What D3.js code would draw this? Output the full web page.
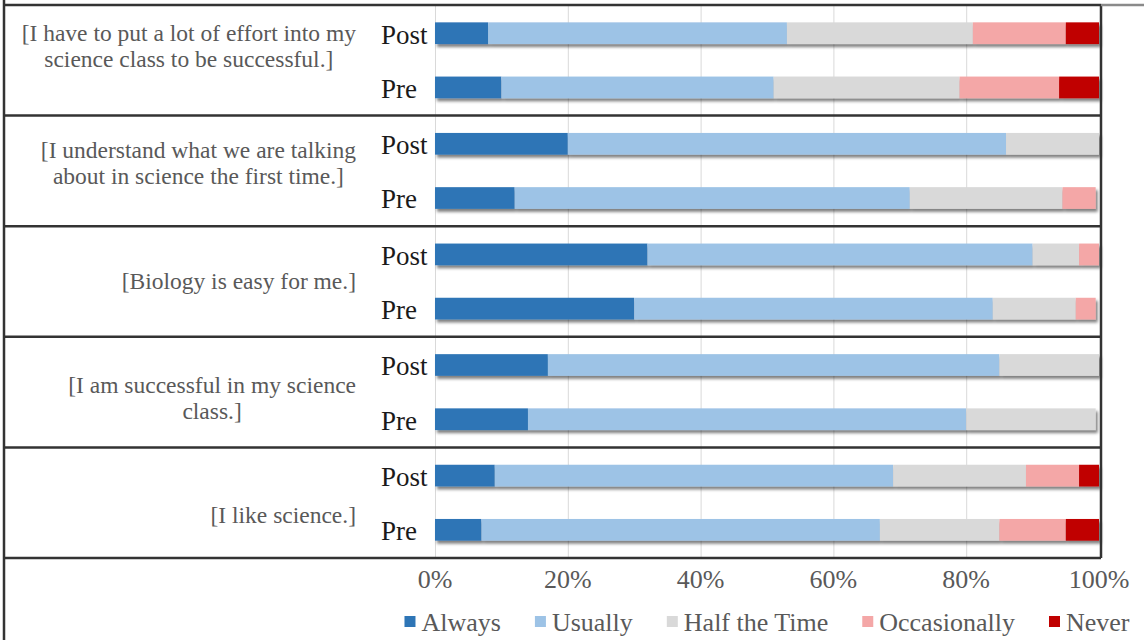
<!DOCTYPE html>
<html>
<head>
<meta charset="utf-8">
<script src="https://cdn.jsdelivr.net/npm/d3@7"></script>
<style>
  html, body { margin: 0; padding: 0; background: #fff; }
  svg { display: block; }
</style>
</head>
<body>
<svg id="chart" width="1144" height="640"></svg>
<script>
// ---------- DATA ----------
const categoryLines = [
  ["[I have to put a lot of effort into my", "science class to be successful.]"],
  ["[I understand what we are talking", "about in science the first time.]"],
  ["[Biology is easy  for me.]"],
  ["[I am successful in my science", "class.]"],
  ["[I like science.]"]
];
const groups = ["Post", "Pre"];
const seriesNames = ["Always", "Usually", "Half the Time", "Occasionally", "Never"];
const seriesColors = ["#2E75B6", "#9DC3E6", "#D9D9D9", "#F4A7A7", "#C00000"];
// rows in order: cat1 Post, cat1 Pre, cat2 Post, cat2 Pre, ...
const always       = [8, 10, 20, 12, 32, 30, 17, 14, 9, 7];
const usually      = [45, 41, 66, 59.5, 58, 54, 68, 66, 60, 60];
const halfTheTime  = [28, 28, 14, 23, 7, 12.5, 15, 19.5, 20, 18];
const occasionally = [14, 15, 0, 5, 3, 3, 0, 0, 8, 10];
const never        = [5, 6, 0, 0, 0, 0, 0, 0, 3, 5];
const tickValues = [0, 20, 40, 60, 80, 100];
const tickLabels = ["0%", "20%", "40%", "60%", "80%", "100%"];

// ---------- LAYOUT ----------
const svg = d3.select("#chart");
const plotLeft = 435, plotRight = 1099, plotTop = 5, plotBottom = 558;
const frameLeft = 4, frameRight = 1101;
const serif = "'Liberation Serif', 'Times New Roman', serif";

const x = d3.scaleLinear().domain([0, 100]).range([plotLeft, plotRight]);
const yCat = d3.scaleBand().domain(d3.range(categoryLines.length)).range([plotTop, plotBottom]).padding(0);
const yGrp = d3.scaleBand().domain(groups).range([0, yCat.bandwidth()]).paddingInner(0.6).paddingOuter(0.32);
// category label positions (label column spreads slightly differently than bars)
const yLabel = d3.scalePoint().domain(d3.range(categoryLines.length)).range([46, 515]);

const seriesArrays = [always, usually, halfTheTime, occasionally, never];
const rows = [];
categoryLines.forEach((c, ci) => {
  groups.forEach((g, gi) => {
    const idx = ci * groups.length + gi;
    const row = { cat: ci, group: g };
    seriesNames.forEach((s, si) => row[s] = seriesArrays[si][idx]);
    rows.push(row);
  });
});
const stacked = d3.stack().keys(seriesNames)(rows);

// shadow filter
const defs = svg.append("defs");
const f = defs.append("filter").attr("id", "shadow").attr("x", "-5%").attr("y", "-40%").attr("width", "110%").attr("height", "200%");
f.append("feDropShadow").attr("dx", 2).attr("dy", 3).attr("stdDeviation", 1.8)
  .attr("flood-color", "#000").attr("flood-opacity", 0.5);

// gridlines
svg.append("g").selectAll("line").data(tickValues.filter(v => v < 100)).join("line")
  .attr("x1", d => x(d) + 0.5).attr("x2", d => x(d) + 0.5)
  .attr("y1", plotTop).attr("y2", plotBottom)
  .attr("stroke", "#d9d9d9").attr("stroke-width", 1);

// bars
const barLayer = svg.append("g");
rows.forEach((r, ri) => {
  const gy = yCat(r.cat) + yGrp(r.group);
  const g = barLayer.append("g").attr("filter", "url(#shadow)");
  stacked.forEach((layer, li) => {
    const d = layer[ri];
    if (d[1] - d[0] <= 0) return;
    g.append("rect")
      .attr("x", x(d[0]))
      .attr("width", x(d[1]) - x(d[0]))
      .attr("y", gy)
      .attr("height", yGrp.bandwidth())
      .attr("fill", seriesColors[li]);
  });
});

// group labels (Post/Pre)
rows.forEach(r => {
  svg.append("text")
    .attr("x", 381)
    .attr("y", yCat(r.cat) + yGrp(r.group) + yGrp.bandwidth() / 2 + 1)
    .attr("dy", "0.35em")
    .attr("text-anchor", "start")
    .attr("font-family", serif).attr("font-size", 27)
    .attr("fill", "#1a1a1a")
    .text(r.group);
});

// category labels (centered block, right edge at 356)
categoryLines.forEach((lines, ci) => {
  const lineH = 26;
  const cy = yLabel(ci);
  const t = svg.append("text")
    .attr("font-family", serif).attr("font-size", 23.5)
    .attr("fill", "#595959").attr("text-anchor", "middle");
  const spans = lines.map((ln) => t.append("tspan").text(ln));
  const maxW = d3.max(spans, s => s.node().getComputedTextLength());
  const cx = 356 - maxW / 2;
  spans.forEach((s, li) => {
    s.attr("x", cx).attr("y", cy + (li - (lines.length - 1) / 2) * lineH).attr("dy", "0.35em");
  });
});

// frame and dividers
const frame = svg.append("g").attr("stroke", "#333").attr("stroke-width", 2.5);
svg.append("line").attr("x1", frameRight).attr("x2", 1144).attr("y1", plotTop).attr("y2", plotTop)
  .attr("stroke", "#8a8a8a").attr("stroke-width", 2.5);
d3.range(categoryLines.length + 1).forEach(i => {
  const yy = i < categoryLines.length ? yCat(i) : plotBottom;
  frame.append("line").attr("x1", frameLeft).attr("x2", frameRight).attr("y1", yy).attr("y2", yy);
});
frame.append("line").attr("x1", frameLeft).attr("x2", frameLeft).attr("y1", 0).attr("y2", 640);
frame.append("line").attr("x1", frameRight).attr("x2", frameRight).attr("y1", plotTop).attr("y2", plotBottom);

// x axis labels
svg.append("g").selectAll("text").data(tickValues).join("text")
  .attr("x", d => x(d)).attr("y", 579).attr("dy", "0.35em")
  .attr("text-anchor", "middle")
  .attr("font-family", serif).attr("font-size", 26)
  .attr("fill", "#595959")
  .text((d, i) => tickLabels[i]);

// legend
const legend = svg.append("g");
const items = seriesNames.map((s, i) => {
  const g = legend.append("g");
  g.append("rect").attr("x", 0).attr("y", -6).attr("width", 11).attr("height", 11).attr("fill", seriesColors[i]);
  const t = g.append("text").attr("x", 17).attr("y", 0).attr("dy", "0.35em")
    .attr("font-family", serif).attr("font-size", 26).attr("fill", "#595959").text(s);
  return { g, w: 17 + t.node().getComputedTextLength() };
});
const gap = 34;
const totalW = d3.sum(items, d => d.w) + gap * (items.length - 1);
let lx = (plotLeft + plotRight) / 2 - totalW / 2;
items.forEach(it => {
  it.g.attr("transform", `translate(${lx},622)`);
  lx += it.w + gap;
});
</script>
</body>
</html>
